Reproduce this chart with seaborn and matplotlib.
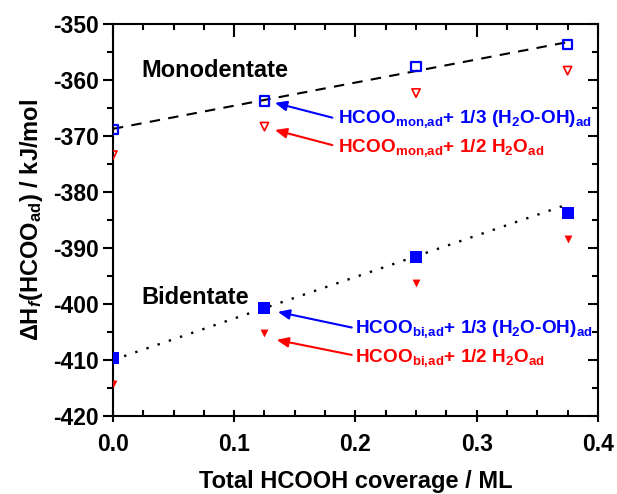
import numpy as np
import pandas as pd
import matplotlib
matplotlib.use("Agg")
import matplotlib.pyplot as plt
import seaborn as sns
from matplotlib.ticker import MultipleLocator

# coverage (ML)
coverage = [0.0, 0.125, 0.25, 0.375]

# formation enthalpies (kJ/mol)
mono_h2o_oh = [-368.8, -363.7, -357.6, -353.6]
mono_h2o = [-373.4, -368.3, -362.3, -358.3]
bi_h2o_oh = [-409.7, -400.8, -391.6, -383.8]
bi_h2o = [-414.3, -405.2, -396.3, -388.4]

# guide lines drawn through the (H2O-OH) points
fit_x = [0.0, 0.375]
mono_fit = [-368.7, -353.2]
bi_fit = [-410.0, -382.2]

sns.set_style("ticks")
plt.rcParams["font.family"] = ["Liberation Sans", "DejaVu Sans"]
plt.rcParams.update({
    "font.weight": "bold",
    "axes.labelweight": "bold",
    "axes.unicode_minus": False,
    "text.color": "black",
    "axes.labelcolor": "black",
    "axes.edgecolor": "black",
    "xtick.color": "black",
    "ytick.color": "black",
    "mathtext.fontset": "custom",
    "mathtext.default": "regular",
    "mathtext.rm": "Liberation Sans:bold",
    "mathtext.bf": "Liberation Sans:bold",
    "mathtext.it": "Liberation Sans:bold:italic",
})

blue = "#0000FF"
red = "#FF0000"

fig = plt.figure(figsize=(6.17, 4.94), dpi=100)
ax = fig.add_axes([0.183, 0.158, 0.786, 0.793])

sns.lineplot(x=fit_x, y=mono_fit, color="black", linestyle=(0, (5, 4)), linewidth=1.5, ax=ax)
sns.lineplot(x=fit_x, y=bi_fit, color="black", linestyle=(0, (1, 4)), linewidth=1.7, ax=ax)

sns.scatterplot(x=coverage, y=mono_h2o_oh, marker="s", s=45, facecolor="none",
                edgecolor=blue, linewidth=1.6, ax=ax, zorder=3)
sns.scatterplot(x=coverage, y=mono_h2o, marker="v", s=36, facecolor="none",
                edgecolor=red, linewidth=1.2, ax=ax, zorder=3)
sns.scatterplot(x=coverage, y=bi_h2o_oh, marker="s", s=75, color=blue,
                edgecolor=blue, linewidth=0, ax=ax, zorder=3)
sns.scatterplot(x=coverage, y=bi_h2o, marker="v", s=32, color=red,
                edgecolor=red, linewidth=0, ax=ax, zorder=3)

ax.set_xlim(0, 0.4)
ax.set_ylim(-420, -350)
ax.xaxis.set_major_locator(MultipleLocator(0.1))
ax.xaxis.set_minor_locator(MultipleLocator(0.025))
ax.yaxis.set_major_locator(MultipleLocator(10))
ax.yaxis.set_minor_locator(MultipleLocator(5))
ax.xaxis.set_major_formatter(matplotlib.ticker.FormatStrFormatter("%.1f"))

for sp in ax.spines.values():
    sp.set_visible(True)
    sp.set_linewidth(1.5)
    sp.set_color("black")

ax.tick_params(axis="both", which="both", top=True, right=True, labelsize=16.5, width=1.5)
ax.tick_params(axis="y", which="major", direction="out", length=7, pad=3)
ax.tick_params(axis="y", which="minor", direction="out", length=4)
ax.tick_params(axis="x", which="major", direction="inout", length=9, pad=8)
ax.tick_params(axis="x", which="minor", direction="in", length=4)
# top / right ticks point inward
for t in ax.yaxis.get_major_ticks() + ax.yaxis.get_minor_ticks():
    t.tick2line.set_marker(matplotlib.lines.TICKLEFT)
for t in ax.xaxis.get_major_ticks() + ax.xaxis.get_minor_ticks():
    t.tick2line.set_marker(matplotlib.lines.TICKDOWN)

ax.set_xlabel("Total HCOOH coverage / ML", fontsize=17, labelpad=10)
ax.set_ylabel(r"$\Delta$H$_\mathit{f}$(HCOO$_{ad}$) / kJ/mol", fontsize=17, labelpad=6)

ax.text(0.0236, -359.5, "Monodentate", fontsize=17, fontweight="bold", ha="left", va="baseline")
ax.text(0.0231, -400.0, "Bidentate", fontsize=17, fontweight="bold", ha="left", va="baseline")

arrow_kw = dict(arrowstyle="-|>,head_length=0.7,head_width=0.3", linewidth=1.5, shrinkA=0, shrinkB=0)

ax.annotate("", xy=(0.1336, -364.05), xytext=(0.181, -366.7),
            arrowprops=dict(color=blue, **arrow_kw))
ax.annotate("", xy=(0.1336, -368.9), xytext=(0.181, -371.6),
            arrowprops=dict(color=red, **arrow_kw))
ax.annotate("", xy=(0.136, -401.4), xytext=(0.197, -404.2),
            arrowprops=dict(color=blue, **arrow_kw))
ax.annotate("", xy=(0.135, -406.4), xytext=(0.197, -409.1),
            arrowprops=dict(color=red, **arrow_kw))

ax.text(0.186, -367.6, r"HCOO$_{mon{,}ad}$+ 1/3 (H$_2$O-OH)$_{ad}$", color=blue,
        fontsize=13.7, fontweight="bold", va="baseline")
ax.text(0.186, -372.8, r"HCOO$_{mon{,}ad}$+ 1/2 H$_2$O$_{ad}$", color=red,
        fontsize=13.7, fontweight="bold", va="baseline")
ax.text(0.1996, -405.2, r"HCOO$_{bi{,}ad}$+ 1/3 (H$_2$O-OH)$_{ad}$", color=blue,
        fontsize=13.7, fontweight="bold", va="baseline")
ax.text(0.1996, -410.3, r"HCOO$_{bi{,}ad}$+ 1/2 H$_2$O$_{ad}$", color=red,
        fontsize=13.7, fontweight="bold", va="baseline")

fig.savefig("out.png", dpi=100)
